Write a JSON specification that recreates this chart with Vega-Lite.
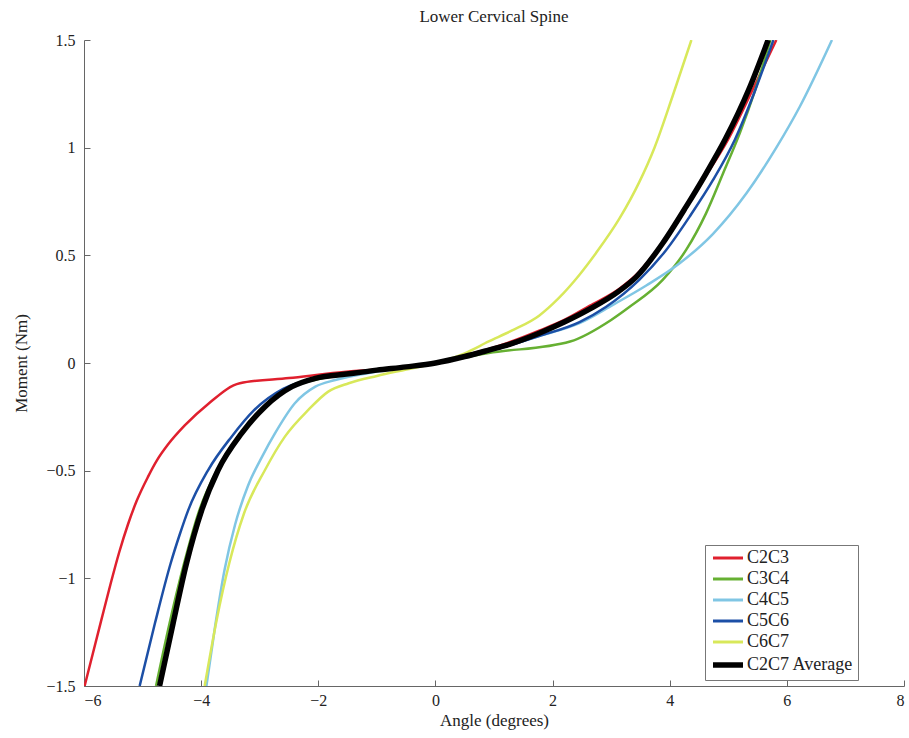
{
  "$schema": "https://vega.github.io/schema/vega-lite/v6.json",
  "width": 820,
  "height": 646,
  "autosize": {"type": "none"},
  "padding": {"left": 84, "top": 40, "right": 5, "bottom": 52},
  "background": "white",
  "title": {"text": "Lower Cervical Spine", "font": "Liberation Serif", "fontSize": 17, "fontWeight": "normal", "color": "#222", "offset": 6, "anchor": "middle"},
  "config": {
    "font": "Liberation Serif",
    "view": {"stroke": null},
    "style": {"guide-label": {"font": "Liberation Serif"}, "guide-title": {"font": "Liberation Serif"}},
    "axis": {"labelFont": "Liberation Serif", "titleFont": "Liberation Serif", "labelFontSize": 16, "titleFontSize": 17, "titleFontWeight": "normal", "labelColor": "#222", "titleColor": "#222", "domainColor": "#666", "tickColor": "#666", "grid": false, "tickSize": -6, "labelPadding": 12},
    "legend": {"labelFont": "Liberation Serif", "labelFontSize": 18, "labelColor": "#222"}
  },
  "data": {"values": [
    {"s":"C2C3","x":-5.99,"y":-1.5},{"s":"C2C3","x":-5.85,"y":-1.35},{"s":"C2C3","x":-5.71,"y":-1.2},{"s":"C2C3","x":-5.55,"y":-1.03},{"s":"C2C3","x":-5.4,"y":-0.88},{"s":"C2C3","x":-5.25,"y":-0.75},{"s":"C2C3","x":-5.1,"y":-0.64},{"s":"C2C3","x":-4.91,"y":-0.53},{"s":"C2C3","x":-4.75,"y":-0.45},{"s":"C2C3","x":-4.57,"y":-0.38},{"s":"C2C3","x":-4.28,"y":-0.29},{"s":"C2C3","x":-3.88,"y":-0.19},{"s":"C2C3","x":-3.34,"y":-0.094},{"s":"C2C3","x":-2.5,"y":-0.07},{"s":"C2C3","x":-1.48,"y":-0.04},{"s":"C2C3","x":-1.0,"y":-0.03},{"s":"C2C3","x":0,"y":0},{"s":"C2C3","x":0.5,"y":0.035},{"s":"C2C3","x":0.91,"y":0.065},{"s":"C2C3","x":1.3,"y":0.1},{"s":"C2C3","x":1.77,"y":0.15},{"s":"C2C3","x":2.2,"y":0.2},{"s":"C2C3","x":2.63,"y":0.265},{"s":"C2C3","x":3.14,"y":0.345},{"s":"C2C3","x":3.43,"y":0.41},{"s":"C2C3","x":3.88,"y":0.56},{"s":"C2C3","x":4.28,"y":0.72},{"s":"C2C3","x":4.62,"y":0.87},{"s":"C2C3","x":5.0,"y":1.04},{"s":"C2C3","x":5.4,"y":1.26},{"s":"C2C3","x":5.82,"y":1.5},
    {"s":"C3C4","x":-4.77,"y":-1.5},{"s":"C3C4","x":-4.54,"y":-1.21},{"s":"C3C4","x":-4.3,"y":-0.94},{"s":"C3C4","x":-4.03,"y":-0.683},{"s":"C3C4","x":-3.73,"y":-0.497},{"s":"C3C4","x":-3.33,"y":-0.327},{"s":"C3C4","x":-2.93,"y":-0.203},{"s":"C3C4","x":-2.45,"y":-0.11},{"s":"C3C4","x":-2.0,"y":-0.075},{"s":"C3C4","x":-1.0,"y":-0.035},{"s":"C3C4","x":0,"y":0},{"s":"C3C4","x":0.91,"y":0.046},{"s":"C3C4","x":2.3,"y":0.1},{"s":"C3C4","x":3.0,"y":0.2},{"s":"C3C4","x":3.31,"y":0.26},{"s":"C3C4","x":3.88,"y":0.386},{"s":"C3C4","x":4.28,"y":0.525},{"s":"C3C4","x":4.62,"y":0.695},{"s":"C3C4","x":4.91,"y":0.88},{"s":"C3C4","x":5.2,"y":1.07},{"s":"C3C4","x":5.45,"y":1.26},{"s":"C3C4","x":5.72,"y":1.5},
    {"s":"C4C5","x":-3.91,"y":-1.5},{"s":"C4C5","x":-3.76,"y":-1.22},{"s":"C4C5","x":-3.6,"y":-0.96},{"s":"C4C5","x":-3.42,"y":-0.75},{"s":"C4C5","x":-3.2,"y":-0.57},{"s":"C4C5","x":-2.95,"y":-0.43},{"s":"C4C5","x":-2.74,"y":-0.327},{"s":"C4C5","x":-2.4,"y":-0.187},{"s":"C4C5","x":-2.05,"y":-0.11},{"s":"C4C5","x":-1.71,"y":-0.079},{"s":"C4C5","x":-1.0,"y":-0.04},{"s":"C4C5","x":0,"y":0},{"s":"C4C5","x":0.5,"y":0.03},{"s":"C4C5","x":0.91,"y":0.055},{"s":"C4C5","x":1.3,"y":0.085},{"s":"C4C5","x":1.77,"y":0.125},{"s":"C4C5","x":2.46,"y":0.185},{"s":"C4C5","x":3.03,"y":0.27},{"s":"C4C5","x":3.6,"y":0.36},{"s":"C4C5","x":4.17,"y":0.463},{"s":"C4C5","x":4.74,"y":0.6},{"s":"C4C5","x":5.31,"y":0.788},{"s":"C4C5","x":5.82,"y":1.0},{"s":"C4C5","x":6.22,"y":1.19},{"s":"C4C5","x":6.77,"y":1.5},
    {"s":"C5C6","x":-5.05,"y":-1.5},{"s":"C5C6","x":-4.79,"y":-1.21},{"s":"C5C6","x":-4.52,"y":-0.93},{"s":"C5C6","x":-4.37,"y":-0.8},{"s":"C5C6","x":-4.22,"y":-0.683},{"s":"C5C6","x":-3.88,"y":-0.497},{"s":"C5C6","x":-3.48,"y":-0.342},{"s":"C5C6","x":-3.1,"y":-0.22},{"s":"C5C6","x":-2.6,"y":-0.12},{"s":"C5C6","x":-2.1,"y":-0.075},{"s":"C5C6","x":-1.5,"y":-0.05},{"s":"C5C6","x":-1.0,"y":-0.033},{"s":"C5C6","x":0,"y":0},{"s":"C5C6","x":0.5,"y":0.03},{"s":"C5C6","x":0.91,"y":0.055},{"s":"C5C6","x":1.3,"y":0.085},{"s":"C5C6","x":1.77,"y":0.125},{"s":"C5C6","x":2.46,"y":0.19},{"s":"C5C6","x":2.91,"y":0.26},{"s":"C5C6","x":3.48,"y":0.386},{"s":"C5C6","x":3.94,"y":0.525},{"s":"C5C6","x":4.34,"y":0.68},{"s":"C5C6","x":4.74,"y":0.85},{"s":"C5C6","x":5.11,"y":1.036},{"s":"C5C6","x":5.45,"y":1.26},{"s":"C5C6","x":5.77,"y":1.5},
    {"s":"C6C7","x":-3.94,"y":-1.5},{"s":"C6C7","x":-3.74,"y":-1.2},{"s":"C6C7","x":-3.52,"y":-0.93},{"s":"C6C7","x":-3.27,"y":-0.7},{"s":"C6C7","x":-2.91,"y":-0.497},{"s":"C6C7","x":-2.57,"y":-0.342},{"s":"C6C7","x":-2.17,"y":-0.218},{"s":"C6C7","x":-1.83,"y":-0.133},{"s":"C6C7","x":-1.48,"y":-0.094},{"s":"C6C7","x":-1.0,"y":-0.06},{"s":"C6C7","x":-0.5,"y":-0.03},{"s":"C6C7","x":0,"y":0},{"s":"C6C7","x":0.5,"y":0.045},{"s":"C6C7","x":0.91,"y":0.1},{"s":"C6C7","x":1.3,"y":0.15},{"s":"C6C7","x":1.77,"y":0.22},{"s":"C6C7","x":2.1,"y":0.3},{"s":"C6C7","x":2.46,"y":0.41},{"s":"C6C7","x":2.74,"y":0.51},{"s":"C6C7","x":3.14,"y":0.67},{"s":"C6C7","x":3.48,"y":0.84},{"s":"C6C7","x":3.74,"y":1.0},{"s":"C6C7","x":4.05,"y":1.24},{"s":"C6C7","x":4.37,"y":1.5},
    {"s":"C2C7 Average","x":-4.71,"y":-1.5},{"s":"C2C7 Average","x":-4.48,"y":-1.21},{"s":"C2C7 Average","x":-4.25,"y":-0.93},{"s":"C2C7 Average","x":-3.99,"y":-0.683},{"s":"C2C7 Average","x":-3.71,"y":-0.497},{"s":"C2C7 Average","x":-3.31,"y":-0.327},{"s":"C2C7 Average","x":-2.91,"y":-0.203},{"s":"C2C7 Average","x":-2.45,"y":-0.11},{"s":"C2C7 Average","x":-2.05,"y":-0.071},{"s":"C2C7 Average","x":-1.48,"y":-0.05},{"s":"C2C7 Average","x":-1.0,"y":-0.033},{"s":"C2C7 Average","x":-0.5,"y":-0.018},{"s":"C2C7 Average","x":0,"y":0},{"s":"C2C7 Average","x":0.5,"y":0.03},{"s":"C2C7 Average","x":0.91,"y":0.06},{"s":"C2C7 Average","x":1.3,"y":0.09},{"s":"C2C7 Average","x":1.77,"y":0.138},{"s":"C2C7 Average","x":2.2,"y":0.19},{"s":"C2C7 Average","x":2.63,"y":0.25},{"s":"C2C7 Average","x":3.14,"y":0.335},{"s":"C2C7 Average","x":3.43,"y":0.4},{"s":"C2C7 Average","x":3.88,"y":0.556},{"s":"C2C7 Average","x":4.28,"y":0.726},{"s":"C2C7 Average","x":4.62,"y":0.88},{"s":"C2C7 Average","x":4.95,"y":1.04},{"s":"C2C7 Average","x":5.35,"y":1.27},{"s":"C2C7 Average","x":5.68,"y":1.5}
  ]},
  "layer": [
    {
      "transform": [{"filter": "datum.s !== 'C2C7 Average'"}],
      "mark": {"type": "line", "clip": true, "strokeJoin": "round", "interpolate": "monotone", "strokeWidth": 2.5}
    },
    {
      "transform": [{"filter": "datum.s === 'C2C7 Average'"}],
      "mark": {"type": "line", "clip": true, "strokeJoin": "round", "interpolate": "monotone", "strokeWidth": 5.5}
    }
  ],
  "encoding": {
    "x": {"field": "x", "type": "quantitative", "scale": {"domain": [-6, 8], "nice": false, "zero": false}, "axis": {"title": "Angle (degrees)", "values": [-6,-4,-2,0,2,4,6,8], "format": "~g", "labelFont": "Liberation Serif", "titleFont": "Liberation Serif", "labelExpr": "replace(datum.label, '-', '\u2212')", "titlePadding": 4}},
    "y": {"field": "y", "type": "quantitative", "scale": {"domain": [-1.5, 1.5], "nice": false, "zero": false}, "axis": {"title": "Moment (Nm)", "values": [-1.5,-1,-0.5,0,0.5,1,1.5], "format": "~g", "labelFont": "Liberation Serif", "titleFont": "Liberation Serif", "labelExpr": "replace(datum.label, '-', '\u2212')", "labelPadding": 15, "titlePadding": 15}},
    "color": {"field": "s", "type": "nominal", "sort": ["C2C3","C3C4","C4C5","C5C6","C6C7","C2C7 Average"],
      "scale": {"domain": ["C2C3","C3C4","C4C5","C5C6","C6C7","C2C7 Average"], "range": ["#e0202e","#66b032","#80c6e4","#1c4fa6","#d8e85a","#000000"]},
      "legend": {"title": null, "orient": "none", "legendX": 621, "legendY": 505, "symbolType": "stroke", "symbolSize": 900, "symbolStrokeWidth": 3, "symbolOffset": 10, "strokeColor": "#777", "fillColor": "white", "padding": 4, "rowPadding": 3, "labelOffset": 10, "labelFont": "Liberation Serif", "labelFontSize": 18,
        "encode": {"symbols": {"update": {"strokeWidth": {"signal": "datum.value === 'C2C7 Average' ? 5.5 : 3"}}}}}}
  }
}
